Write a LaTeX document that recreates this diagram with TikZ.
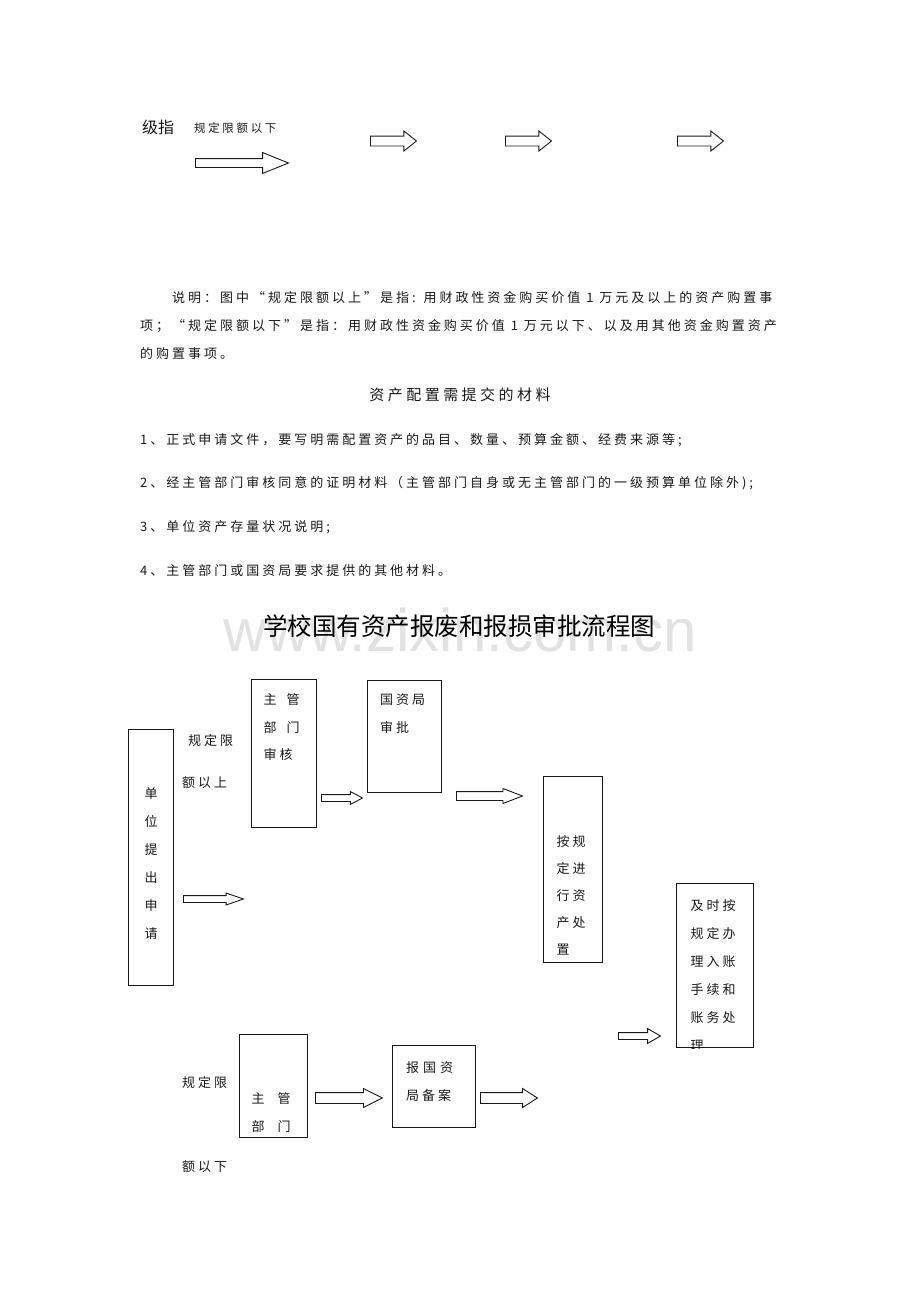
\documentclass[tikz,border=0pt]{standalone}
\usepackage{fontspec}
\setmainfont{Noto Sans CJK SC}
\newfontfamily\songti[LetterSpace=23]{Noto Sans CJK SC}
\newfontfamily\heiti{Noto Sans CJK SC}
\newfontfamily\markfont{Liberation Sans}
\usetikzlibrary{shapes.arrows}
\definecolor{wmgray}{RGB}{226,226,226}
\definecolor{inkgray}{RGB}{25,25,25}

\tikzset{
  txt/.style={inner sep=0pt, anchor=west, text=inkgray, font=\songti\fontsize{13}{28}\selectfont},
  flowbox/.style={draw=inkgray, line width=1.1pt, inner sep=0pt, anchor=north west},
  boxtxt/.style={inner sep=0pt, anchor=north west, align=left, text=inkgray, font=\songti\fontsize{13}{27.5}\selectfont},
  blockarr/.style n args={4}{single arrow, draw=inkgray, line width=0.9pt, inner sep=0pt, anchor=tail,
    minimum height=#1, text height=#2, text depth=0pt, single arrow head extend=#3, single arrow tip angle=#4},
}

\begin{document}
\begin{tikzpicture}[x=1pt, y=-1pt]
    \fill[white] (0,0) rectangle (920,1302);
    \useasboundingbox (0,0) rectangle (920,1302);

    % top remnant of the previous chart
    \node[txt, font=\heiti\fontsize{16}{16}\selectfont] (jizhi) at (142,127) {级指};
    \node[txt, font=\songti\fontsize{11.5}{14}\selectfont] (xiaxian) at (194,128) {规定限额以下};
    \node[blockarr={93}{8}{6}{44}] (topbig) at (195,163) {};
    \node[blockarr={46}{9}{5}{77}] (topa) at (370,141) {};
    \node[blockarr={46}{9}{5}{77}] (topb) at (505,141) {};
    \node[blockarr={46}{9}{5}{77}] (topc) at (677,141) {};

    % note
    \node[txt] (note1) at (172,298) {说明：图中“规定限额以上”是指: 用财政性资金购买价值 1 万元及以上的资产购置事};
    \node[txt] (note2) at (140,326) {项；“规定限额以下”是指：用财政性资金购买价值 1 万元以下、以及用其他资金购置资产};
    \node[txt] (note3) at (140,354) {的购置事项。};

    % materials
    \node[txt, anchor=center, font=\songti\fontsize{15}{15}\selectfont] (cailiao) at (460,395) {资产配置需提交的材料};
    \node[txt] (item1) at (140,440) {1、正式申请文件，要写明需配置资产的品目、数量、预算金额、经费来源等;};
    \node[txt] (item2) at (140,483) {2、经主管部门审核同意的证明材料（主管部门自身或无主管部门的一级预算单位除外);};
    \node[txt] (item3) at (140,527) {3、单位资产存量状况说明;};
    \node[txt] (item4) at (140,571) {4、主管部门或国资局要求提供的其他材料。};

    % title with watermark
    \node[inner sep=0pt, text=wmgray, font=\markfont\fontsize{60}{60}\selectfont] (mark) at (460,630) {www.zixin.com.cn};
    \node[inner sep=0pt, font=\heiti\fontsize{24.5}{24.5}\selectfont] (title) at (459,626) {学校国有资产报废和报损审批流程图};

    % boxes
    \node[flowbox, minimum width=45, minimum height=256] (shenqing) at (128,729) {};
    \node[flowbox, minimum width=65, minimum height=148] (shenhe) at (251,679) {};
    \node[flowbox, minimum width=74, minimum height=112] (shenpi) at (367,680) {};
    \node[flowbox, minimum width=59, minimum height=186] (chuzhi) at (543,776) {};
    \node[flowbox, minimum width=77, minimum height=164] (ruzhang) at (676,883) {};
    \node[flowbox, minimum width=68, minimum height=103] (zhuguan) at (239,1034) {};
    \node[flowbox, minimum width=83, minimum height=82] (beian) at (392,1045) {};

    % box texts
    \node[boxtxt, anchor=center, align=center, font=\songti\fontsize{13}{28}\selectfont] (shenqingtxt)
        at ([yshift=-6pt]shenqing.center) {单\\位\\提\\出\\申\\请};
    \node[boxtxt] (shenhetxt) at (263.5,693.5) {主\hspace{10pt}管\\部\hspace{10pt}门\\审核};
    \node[boxtxt] (shenpitxt) at (380,693.5) {国资局\\审批};
    \node[boxtxt, font=\songti\fontsize{13}{27}\selectfont] (chuzhitxt) at (556.5,835.5) {按规\\定进\\行资\\产处\\置};
    \begin{scope}
        \clip (ruzhang.north west) rectangle (ruzhang.south east);
        \node[boxtxt, font=\songti\fontsize{13}{28}\selectfont] (ruzhangtxt) at (690.5,899.5)
            {及时按\\规定办\\理入账\\手续和\\账务处\\理};
    \end{scope}
    \node[boxtxt, font=\songti\fontsize{13}{28}\selectfont] (zhuguantxt) at (251.5,1092.5) {主\hspace{13pt}管\\部\hspace{13pt}门};
    \node[boxtxt] (beiantxt) at (406,1061.5) {报\hspace{4pt}国\hspace{4pt}资\\局备案};

    % side labels
    \node[txt] (shangxian1) at (188,741) {规定限};
    \node[txt] (shangxian2) at (182,783) {额以上};
    \node[txt] (xiaxian1) at (182,1083) {规定限};
    \node[txt] (xiaxian2) at (182,1167) {额以下};

    % arrows
    \node[blockarr={60}{6}{2.5}{38}] (arrshen) at (183,899) {};
    \node[blockarr={41}{6}{3}{56}] (arrpi) at (321,798) {};
    \node[blockarr={66}{8}{3}{42}] (arrchu) at (456,796) {};
    \node[blockarr={42}{6}{4}{60}] (arrzhang) at (618,1036) {};
    \node[blockarr={67}{10}{4}{53}] (arran) at (315,1098) {};
    \node[blockarr={57}{10}{4}{65}] (arrbei) at (480,1098) {};
\end{tikzpicture}
\end{document}
